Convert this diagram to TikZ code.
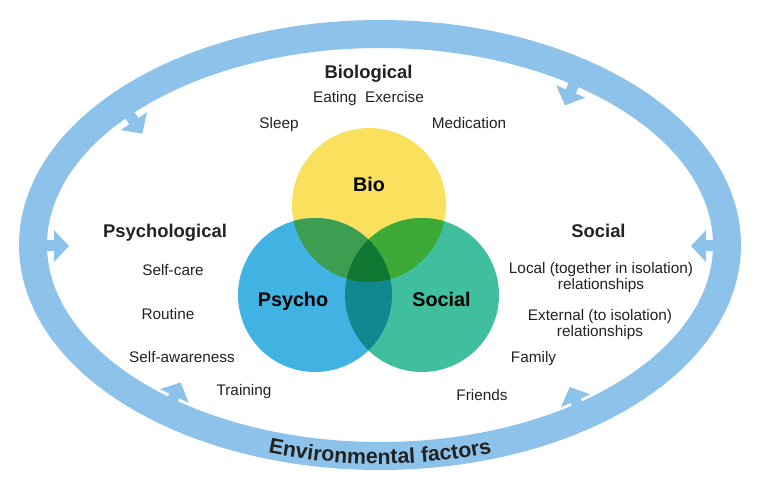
\documentclass[tikz,border=0pt]{standalone}
\usepackage{fontspec}
\setmainfont{Liberation Sans}
\usetikzlibrary{arrows.meta,decorations.text}
\definecolor{ringblue}{HTML}{8DC3EA}
\definecolor{bioyellow}{HTML}{F9E15E}
\definecolor{psyblue}{HTML}{40B3E3}
\definecolor{socgreen}{HTML}{40BF9E}
\definecolor{biopsy}{HTML}{3D9E52}
\definecolor{biosoc}{HTML}{3DAA38}
\definecolor{psysoc}{HTML}{118790}
\definecolor{allthree}{HTML}{117833}
\definecolor{txt}{HTML}{222222}

\begin{document}
\begin{tikzpicture}[x=0.75pt,y=-0.75pt,
    lbl/.style={anchor=base,text=txt,inner sep=0pt,font=\fontsize{11.5}{12}\selectfont},
    twoline/.style={anchor=north,align=center,text=txt,inner sep=0pt,font=\fontsize{11.5}{12}\selectfont},
    head/.style={anchor=base,text=txt,inner sep=0pt,font=\fontsize{13.8}{15}\selectfont\bfseries},
    venn/.style={anchor=base,text=black,inner sep=0pt,font=\fontsize{14.8}{16}\selectfont\bfseries},
    envarrow/.style={ringblue,line width=8.25pt,-{Triangle[length=11.25pt,width=23.25pt]}}]
  \useasboundingbox (0,0) rectangle (760,491);

  % environment ring
  \draw[ringblue,line width=21pt] (380,245) ellipse (347 and 211);
  \draw[envarrow] (33,246) -- (69,246);
  \draw[envarrow] (727,246) -- (691,246);
  \draw[envarrow] (122.1,103.8) -- (142.3,133.6);
  \draw[envarrow] (579.0,72.2) -- (564.9,105.3);
  \draw[envarrow] (167.0,411.3) -- (180.7,382.4);
  \draw[envarrow] (582.5,416.3) -- (569.7,387.0);
  \path[decorate,decoration={text along path,text align=center,text color=txt,
      text={|\fontsize{16}{18}\selectfont\bfseries|Environmental factors}}]
    (380,245) ++(120:354 and 219) arc[start angle=120,end angle=60,x radius=354,y radius=219];

  % venn circles
  \coordinate (bio) at (369,205);
  \coordinate (psy) at (315,295);
  \coordinate (soc) at (422,295);
  \fill[bioyellow] (bio) circle (77);
  \fill[psyblue] (psy) circle (77);
  \fill[socgreen] (soc) circle (77);
  \begin{scope}
    \clip (bio) circle (77);
    \fill[biopsy] (psy) circle (77);
    \fill[biosoc] (soc) circle (77);
  \end{scope}
  \begin{scope}
    \clip (psy) circle (77);
    \fill[psysoc] (soc) circle (77);
    \clip (soc) circle (77);
    \fill[allthree] (bio) circle (77);
  \end{scope}
  \node[venn] (biolbl) at (369,192) {Bio};
  \node[venn] (psylbl) at (293,307) {Psycho};
  \node[venn] (soclbl) at (441.5,307) {Social};

  % biological
  \node[head] (biohead) at (368.5,79) {Biological};
  \node[lbl] (eating) at (368.5,103) {Eating\ \ Exercise};
  \node[lbl] (sleep) at (279,129) {Sleep};
  \node[lbl] (medication) at (469,129) {Medication};

  % psychological
  \node[head] (psyhead) at (165,238) {Psychological};
  \node[lbl] (selfcare) at (173,276) {Self-care};
  \node[lbl] (routine) at (168,320) {Routine};
  \node[lbl] (awareness) at (182,363) {Self-awareness};
  \node[lbl] (training) at (244,395) {Training};

  % social
  \node[head] (sochead) at (598.5,238) {Social};
  \node[twoline] (localrel) at (601,262) {Local (together in isolation)\\relationships};
  \node[twoline] (externalrel) at (600,309) {External (to isolation)\\relationships};
  \node[lbl] (family) at (533.5,363) {Family};
  \node[lbl] (friends) at (482,401) {Friends};
\end{tikzpicture}
\end{document}
